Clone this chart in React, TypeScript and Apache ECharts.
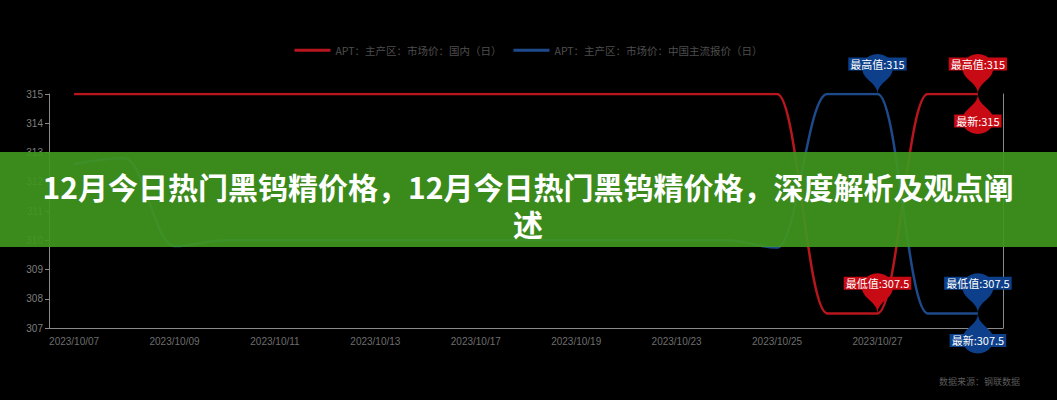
import React, { useEffect, useRef } from "react";
import * as echarts from "echarts";

const dates = [
  "2023/10/07", "2023/10/08", "2023/10/09", "2023/10/10", "2023/10/11",
  "2023/10/12", "2023/10/13", "2023/10/16", "2023/10/17", "2023/10/18",
  "2023/10/19", "2023/10/20", "2023/10/23", "2023/10/24", "2023/10/25",
  "2023/10/26", "2023/10/27", "2023/10/30", "2023/10/31",
];
const redName = "APT：主产区：市场价：国内（日）";
const blueName = "APT：主产区：市场价：中国主流报价（日）";
const redValues = [
  315, 315, 315, 315, 315, 315, 315, 315, 315, 315,
  315, 315, 315, 315, 315, 307.5, 307.5, 315, 315,
];
const blueValues = [
  312.6, 312.8, 309.8, 310, 310, 310, 310, 310, 310, 310,
  310, 310, 310, 310, 309.75, 315, 315, 307.5, 307.5,
];
const yMin = 307;
const yMax = 315;
const yInterval = 1;
const titleText = "12月今日热门黑钨精价格，12月今日热门黑钨精价格，深度解析及观点阐\n述";
const sourceText = "数据来源：钢联数据";

const RED_LINE = "#b8161e";
const RED_PIN = "#c80a14";
const BLUE_LINE = "#1e4a8c";
const BLUE_PIN = "#0d3f8a";
const AXIS = "#8a8a8a";

function buildMarks(values: number[], color: string) {
  const max = Math.max(...values);
  const min = Math.min(...values);
  const iMax = values.lastIndexOf(max);
  const iMin = values.lastIndexOf(min);
  const iLast = values.length - 1;
  return {
    symbol: "pin",
    symbolSize: [52, 46],
    itemStyle: { color },
    label: {
      show: true,
      color: "#fff",
      fontSize: 11,
      fontFamily: "Noto Sans CJK SC",
      backgroundColor: color,
      padding: [1, 2],
      formatter: "{b}:{c}",
      position: "inside",
      offset: [0, -6],
    },
    data: [
      { name: "最高值", coord: [dates[iMax], max], value: max },
      { name: "最低值", coord: [dates[iMin], min], value: min },
      {
        name: "最新",
        coord: [dates[iLast], values[iLast]],
        value: values[iLast],
        symbolRotate: 180,
        label: { offset: [0, 11] },
      },
    ],
  };
}

export default function App() {
  const ref = useRef<HTMLDivElement>(null);
  useEffect(() => {
    if (!ref.current) return;
    const chart = echarts.init(ref.current, null, { renderer: "svg" });
    chart.setOption({
      animation: false,
      backgroundColor: "#000",
      textStyle: { fontFamily: "Liberation Sans, Noto Sans CJK SC, sans-serif" },
      legend: {
        top: 40,
        left: "center",
        icon: "rect",
        itemWidth: 36,
        itemHeight: 3,
        itemGap: 12,
        textStyle: { color: "#4e4e4e", fontSize: 10.5, fontFamily: "Noto Sans CJK SC" },
        data: [redName, blueName],
      },
      grid: { left: 49, right: 54, top: 94, bottom: 72 },
      xAxis: {
        type: "category",
        data: dates,
        boundaryGap: true,
        axisLine: { lineStyle: { color: AXIS } },
        axisTick: { length: 4, lineStyle: { color: AXIS } },
        axisLabel: { color: "#6e6e6e", fontSize: 10, interval: 1, margin: 8 },
      },
      yAxis: [
        {
          type: "value",
          min: yMin,
          max: yMax,
          interval: yInterval,
          axisLine: { show: true, lineStyle: { color: AXIS } },
          axisTick: { show: true, length: 4, lineStyle: { color: AXIS } },
          axisLabel: { color: "#7e7e7e", fontSize: 10, margin: 6 },
          splitLine: { show: false },
        },
        {
          type: "value",
          position: "right",
          min: yMin,
          max: yMax,
          interval: yInterval,
          axisLine: { show: true, lineStyle: { color: AXIS } },
          axisTick: { show: false },
          axisLabel: { show: false },
          splitLine: { show: false },
        },
      ],
      series: [
        {
          name: redName,
          type: "line",
          data: redValues,
          smooth: 0.4,
          smoothMonotone: "x",
          showSymbol: false,
          lineStyle: { color: RED_LINE, width: 2.5 },
          itemStyle: { color: RED_LINE },
          markPoint: buildMarks(redValues, RED_PIN),
        },
        {
          name: blueName,
          type: "line",
          data: blueValues,
          smooth: 0.4,
          smoothMonotone: "x",
          showSymbol: false,
          lineStyle: { color: BLUE_LINE, width: 2.5 },
          itemStyle: { color: BLUE_LINE },
          markPoint: buildMarks(blueValues, BLUE_PIN),
        },
      ],
      graphic: [
        {
          type: "rect",
          z: 100,
          shape: { x: 0, y: 152, width: 1057, height: 95 },
          style: { fill: "rgba(64,150,30,0.92)" },
        },
        {
          type: "text",
          z: 101,
          x: 528,
          y: 204,
          style: {
            text: titleText,
            fill: "#fff",
            font: "bold 30px 'Noto Sans CJK SC'",
            lineHeight: 37,
            align: "center",
            verticalAlign: "middle",
          },
        },
        {
          type: "text",
          z: 101,
          right: 37,
          top: 377,
          style: {
            text: sourceText,
            fill: "#5a5a5a",
            font: "9px 'Noto Sans CJK SC'",
          },
        },
      ],
    });
    return () => chart.dispose();
  }, []);
  return (
    <div
      ref={ref}
      style={{ position: "fixed", left: 0, top: 0, width: 1057, height: 400, background: "#000" }}
    />
  );
}
